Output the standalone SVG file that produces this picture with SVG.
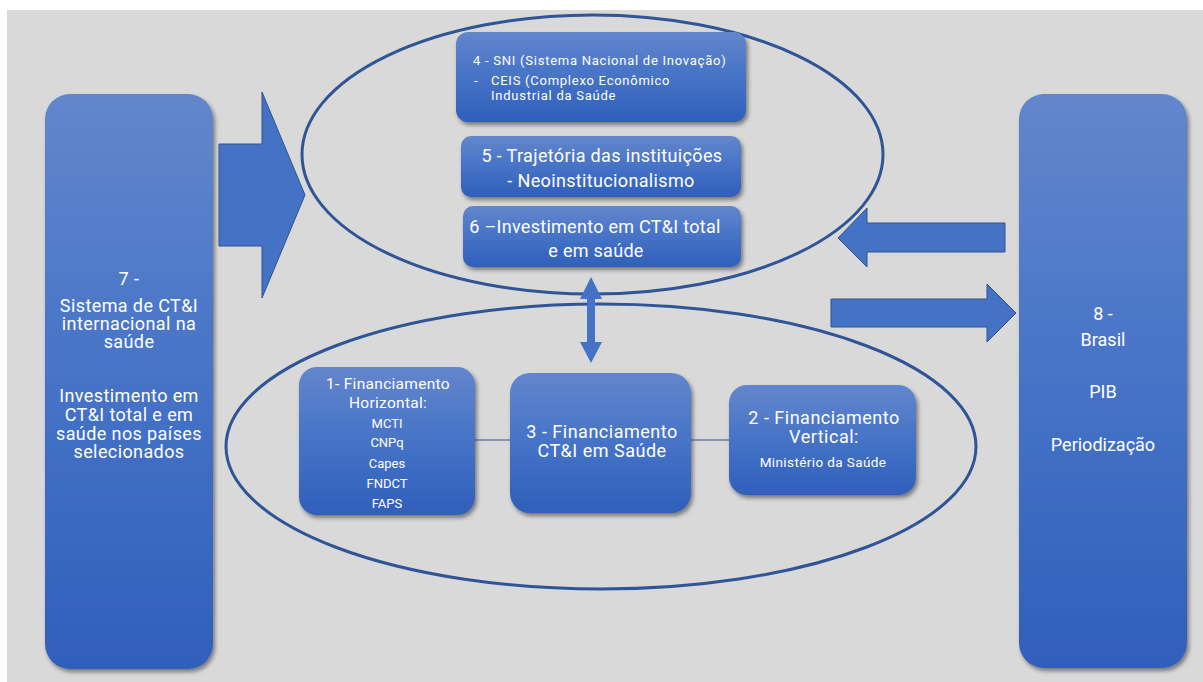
<svg xmlns="http://www.w3.org/2000/svg" width="1203" height="682" viewBox="0 0 1203 682">
<defs>
<linearGradient id="g" x1="0" y1="0" x2="0" y2="1">
<stop offset="0" stop-color="#6386cc"/>
<stop offset="0.5" stop-color="#4673c7"/>
<stop offset="1" stop-color="#2f5fba"/>
</linearGradient>
<filter id="sh" x="-10%" y="-10%" width="125%" height="125%">
<feDropShadow dx="2" dy="3" stdDeviation="2" flood-color="#000" flood-opacity="0.45"/>
</filter>
</defs>
<style>
.box{fill:url(#g);filter:url(#sh)}
.arr{fill:#4472c4;stroke:#2f528f;stroke-width:1}
.ell{fill:none;stroke:#2f5597;stroke-width:3}
.t{font-family:Roboto,"Liberation Sans",sans-serif;fill:#fff;text-anchor:middle}
.l{font-family:Roboto,"Liberation Sans",sans-serif;fill:#fff}
.line{stroke:#2f5597;stroke-width:1.2}
</style>
<rect x="7" y="10" width="1196" height="672" fill="#d9d9d9"/>

<g id="connectors">
<polygon class="arr" points="219,144 262,144 262,92 305,195 262,298 262,246 219,246"/>
<polygon class="arr" points="1005,223 867,223 867,208 838,238 867,267 867,252 1005,252"/>
<ellipse class="ell" cx="592.5" cy="154.5" rx="290.5" ry="139.5"/>
<ellipse class="ell" cx="601" cy="446.5" rx="375" ry="142.5"/>
<polygon class="arr" points="831,299 987,299 987,284 1016,313 987,342 987,327 831,327"/>
<polygon fill="#4472c4" points="591,277 602,299 595,299 595,342 602,342 591,363 580,342 587,342 587,299 580,299"/>
<line class="line" x1="475" y1="440" x2="511" y2="440"/>
<line class="line" x1="690" y1="440" x2="730" y2="440"/>
</g>

<g id="node7">
<rect class="box" x="45" y="94" width="168" height="575" rx="25"/>
<text class="t" font-size="18" letter-spacing="0.4"><tspan x="129" y="285">7 -</tspan><tspan x="129" y="312">Sistema de CT&amp;I</tspan><tspan x="129" y="330">internacional na</tspan><tspan x="129" y="348">saúde</tspan><tspan x="129" y="402">Investimento em</tspan><tspan x="129" y="421">CT&amp;I total e em</tspan><tspan x="129" y="440">saúde nos países</tspan><tspan x="129" y="458">selecionados</tspan></text>
</g>

<g id="node8">
<rect class="box" x="1019" y="94" width="168" height="574" rx="25"/>
<text class="t" font-size="18"><tspan x="1103" y="320">8 -</tspan><tspan x="1103" y="346">Brasil</tspan><tspan x="1103" y="398">PIB</tspan><tspan x="1103" y="451">Periodização</tspan></text>
</g>

<g id="node4">
<rect class="box" x="456" y="32" width="290" height="90" rx="12"/>
<text class="l" font-size="13" letter-spacing="0.75"><tspan x="473" y="65">4 - SNI (Sistema Nacional de Inovação)</tspan><tspan x="474" y="85">-</tspan><tspan x="491" y="85">CEIS (Complexo Econômico</tspan><tspan x="491" y="100">Industrial da Saúde</tspan></text>
</g>

<g id="node5">
<rect class="box" x="461" y="136" width="280" height="61" rx="10"/>
<text class="t" font-size="18" letter-spacing="0.35"><tspan x="602" y="162">5 - Trajetória das instituições</tspan><tspan x="601" y="187">- Neoinstitucionalismo</tspan></text>
</g>

<g id="node6">
<rect class="box" x="463" y="206" width="278" height="61" rx="10"/>
<text class="t" font-size="18" letter-spacing="0.28"><tspan x="595" y="233">6 –Investimento em CT&amp;I total</tspan><tspan x="596" y="257">e em saúde</tspan></text>
</g>

<g id="node1">
<rect class="box" x="299" y="367" width="176" height="148" rx="18"/>
<text class="t"><tspan x="388" y="389" font-size="15.5" letter-spacing="0.3">1- Financiamento</tspan><tspan x="388" y="408" font-size="15.5" letter-spacing="0.3">Horizontal:</tspan><tspan x="387" y="428" font-size="13">MCTI</tspan><tspan x="387" y="447" font-size="13">CNPq</tspan><tspan x="387" y="468" font-size="13">Capes</tspan><tspan x="387" y="488" font-size="13">FNDCT</tspan><tspan x="387" y="508" font-size="13">FAPS</tspan></text>
</g>

<g id="node3">
<rect class="box" x="510" y="373" width="181" height="140" rx="20"/>
<text class="t" font-size="18" letter-spacing="0.5"><tspan x="602" y="438">3 - Financiamento</tspan><tspan x="602" y="457">CT&amp;I em Saúde</tspan></text>
</g>

<g id="node2">
<rect class="box" x="729" y="385" width="187" height="110" rx="18"/>
<text class="t"><tspan x="824" y="424" font-size="18" letter-spacing="0.5">2 - Financiamento</tspan><tspan x="824" y="443" font-size="18" letter-spacing="0.5">Vertical:</tspan><tspan x="823" y="467" font-size="13.5" letter-spacing="0.4">Ministério da Saúde</tspan></text>
</g>
</svg>
